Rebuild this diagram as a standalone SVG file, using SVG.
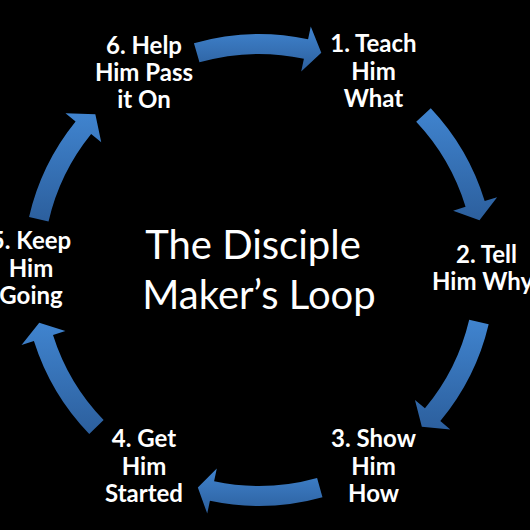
<svg xmlns="http://www.w3.org/2000/svg" width="530" height="530" viewBox="0 0 530 530">
  <defs>
    <linearGradient id="blue" x1="0" y1="0" x2="0" y2="1">
      <stop offset="0" stop-color="#4084cf"/>
      <stop offset="1" stop-color="#2c5f9d"/>
    </linearGradient>
    <style>
      .arrow { fill: url(#blue); }
      .lbl { font-family: Lato, "Open Sans", "Liberation Sans", sans-serif; font-weight: bold; font-size: 24px; fill: #ffffff; text-anchor: middle; }
      .title { font-family: Lato, "Open Sans", "Liberation Sans", sans-serif; font-size: 40px; fill: #ffffff; text-anchor: middle; }
    </style>
  </defs>
  <rect x="0" y="0" width="530" height="530" fill="#000000"/>
  <g id="connectors">
    <path class="arrow" d="M193.95,43.14 A236,236 0 0 1 308.07,39.16 L310.77,26.44 L321.29,52.76 L301.21,71.44 L303.91,58.72 A216,216 0 0 0 199.46,62.37 Z"/>
    <path class="arrow" d="M430.75,108.14 A236,236 0 0 1 484.69,201.0 L497.12,197.20 L479.47,220.31 L453.13,210.65 L465.56,206.85 A216,216 0 0 0 416.20,121.86 Z"/>
    <path class="arrow" d="M488.67,324.29 A236,236 0 0 1 440.31,421.07 L450.30,429.39 L421.84,426.71 L414.96,399.94 L424.95,408.26 A216,216 0 0 0 469.21,319.69 Z"/>
    <path class="arrow" d="M322.47,497.31 A236,236 0 0 1 209.93,500.84 L207.23,513.56 L197.84,487.57 L216.79,468.56 L214.09,481.28 A216,216 0 0 0 317.09,478.04 Z"/>
    <path class="arrow" d="M89.24,433.94 A236,236 0 0 1 33.92,340.97 L21.52,344.88 L39.24,322.76 L65.40,331.04 L53.0,334.95 A216,216 0 0 0 103.62,420.05 Z"/>
    <path class="arrow" d="M29.05,216.91 A236,236 0 0 1 75.59,121.48 L65.49,113.30 L95.34,114.15 L101.24,142.25 L91.14,134.07 A216,216 0 0 0 48.54,221.41 Z"/>
  </g>
  <g id="title">
    <text class="title" x="253" y="259">The Disciple</text>
    <text class="title" x="259" y="309">Maker’s Loop</text>
  </g>
  <g id="step1">
    <text class="lbl" x="373.5" y="52">1. Teach</text>
    <text class="lbl" x="373.5" y="80">Him</text>
    <text class="lbl" x="373.5" y="107">What</text>
  </g>
  <g id="step2">
    <text class="lbl" x="486.5" y="263">2. Tell</text>
    <text class="lbl" x="432" y="290" style="text-anchor:start">Him Why</text>
  </g>
  <g id="step3">
    <text class="lbl" x="373.5" y="447">3. Show</text>
    <text class="lbl" x="373.5" y="475">Him</text>
    <text class="lbl" x="373.5" y="502">How</text>
  </g>
  <g id="step4">
    <text class="lbl" x="144" y="447">4. Get</text>
    <text class="lbl" x="144" y="475">Him</text>
    <text class="lbl" x="144" y="502">Started</text>
  </g>
  <g id="step5">
    <text class="lbl" x="31" y="249">5. Keep</text>
    <text class="lbl" x="31" y="276.5">Him</text>
    <text class="lbl" x="31" y="303.5">Going</text>
  </g>
  <g id="step6">
    <text class="lbl" x="144" y="54">6. Help</text>
    <text class="lbl" x="144" y="81">Him Pass</text>
    <text class="lbl" x="144" y="108">it On</text>
  </g>
</svg>
